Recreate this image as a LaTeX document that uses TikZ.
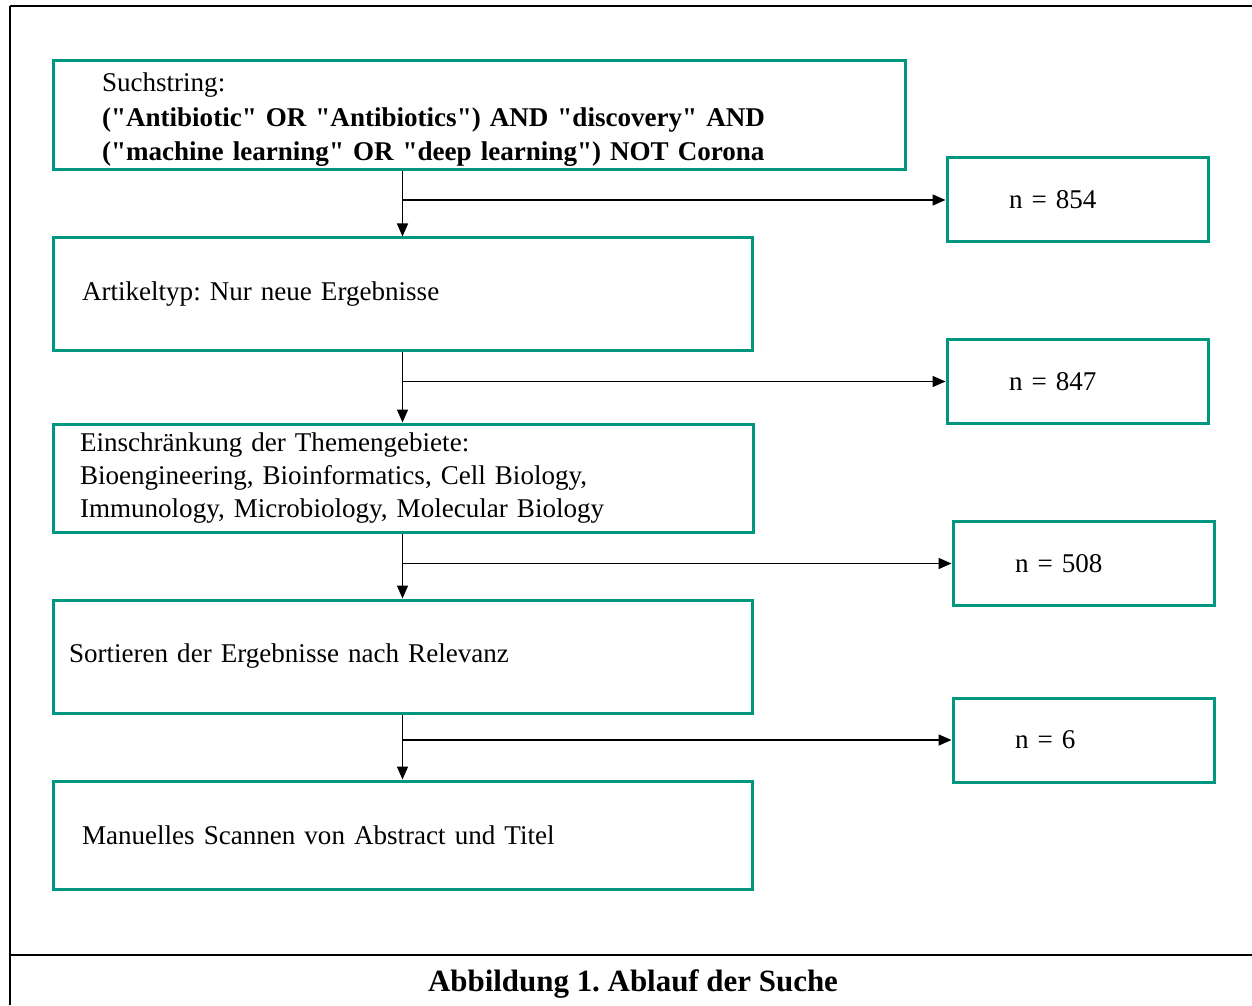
\documentclass[tikz,border=0pt]{standalone}
\usepackage{fontspec}
\setmainfont{Liberation Serif}
\usepackage{tikz}
\usetikzlibrary{arrows.meta, positioning, calc}

\definecolor{rahmen}{RGB}{0,150,128}
\newcommand{\qd}{\textquotedbl}
\frenchspacing

\begin{document}
\begin{tikzpicture}[
        s/.style={draw=rahmen, line width=0.06cm, align=left, inner ysep=0pt,
            font=\fontsize{15.4}{18.8}\selectfont},
        n/.style={s, minimum width=5.22cm, minimum height=1.68cm, text width=2.74cm, inner xsep=1.24cm},
        >={Triangle[length=0.26cm, width=0.22cm]}
    ]
        \useasboundingbox (0,0) rectangle (25.04,-20.1);
        % frame
        \draw[line width=0.05cm] (0.19,-0.12) -- (25.04,-0.12);
        \draw[line width=0.025cm] (0.2,-0.12) -- (0.2,-18.5);
        \draw[line width=0.045cm] (0.2,-18.5) -- (0.2,-20.1);
        \draw[line width=0.05cm] (0.2,-19.1) -- (25.04,-19.1);
        \node[font=\fontsize{17.6}{20}\selectfont\bfseries] (cap) at (12.66,-19.68) {Abbildung 1. Ablauf der Suche};

        \node[s, minimum width=17.04cm, minimum height=2.18cm, text width=15.08cm, inner xsep=0.98cm] (such) at (9.58,-2.31)
            {\raisebox{0pt}[\dimexpr\height+4.6pt\relax][0pt]{Suchstring:}\\[1.5pt]\textbf{(\qd Antibiotic\qd{} OR \qd Antibiotics\qd) AND \qd discovery\qd{} AND}\\[0.5pt]\textbf{(\qd machine learning\qd{} OR \qd deep learning\qd) NOT Corona}};
        \node[s, minimum width=13.98cm, minimum height=2.26cm, text width=12.82cm, inner xsep=0.58cm] (typ) at (8.05,-5.89)
            {Artikeltyp: Nur neue Ergebnisse};
        \node[s, minimum width=14cm, minimum height=2.16cm, text width=12.92cm, inner xsep=0.54cm] (thema) at (8.06,-9.56)
            {Einschränkung der Themengebiete:\\Bioengineering, Bioinformatics, Cell Biology,\\Immunology, Microbiology, Molecular Biology};
        \node[s, minimum width=13.98cm, minimum height=2.26cm, text width=13.34cm, inner xsep=0.32cm] (sort) at (8.05,-13.13)
            {Sortieren der Ergebnisse nach Relevanz};
        \node[s, minimum width=13.98cm, minimum height=2.16cm, text width=12.82cm, inner xsep=0.58cm] (scan) at (8.05,-16.7)
            {Manuelles Scannen von Abstract und Titel};

        \node[n] (n1) at (21.55,-4.0) {n = 854};
        \node[n] (n2) at (21.55,-7.63) {n = 847};
        \node[n] (n3) at (21.67,-11.27) {n = 508};
        \node[n] (n4) at (21.67,-14.8) {n = 6};

        \draw[->, line width=0.03cm] (such.south -| typ.north) -- (typ.north);
        \draw[->, line width=0.03cm] (typ.north |- n1.west) -- (n1.west);
        \draw[->, line width=0.03cm] (typ.south) -- (thema.north -| typ.south);
        \draw[->, line width=0.03cm] (typ.south |- n2.west) -- (n2.west);
        \draw[->, line width=0.03cm] (thema.south -| sort.north) -- (sort.north);
        \draw[->, line width=0.03cm] (sort.north |- n3.west) -- (n3.west);
        \draw[->, line width=0.03cm] (sort.south) -- (scan.north);
        \draw[->, line width=0.03cm] (scan.north |- n4.west) -- (n4.west);
    \end{tikzpicture}
\end{document}
